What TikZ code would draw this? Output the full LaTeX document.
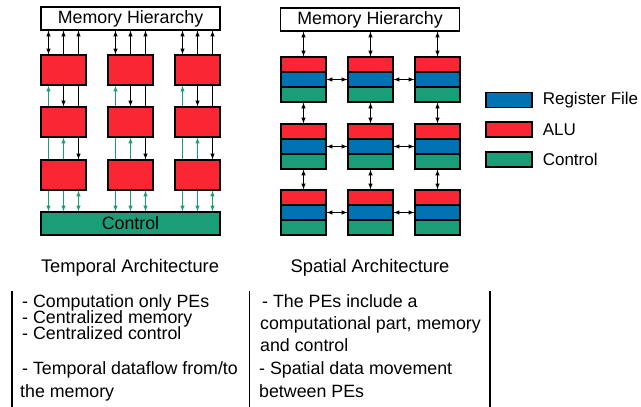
\documentclass[tikz,border=0pt]{standalone}
\usepackage{fontspec}
\setmainfont{Liberation Sans}
\usepackage{tikz}
\usetikzlibrary{positioning}
\definecolor{alured}{RGB}{250,38,52}
\definecolor{regblue}{RGB}{0,114,178}
\definecolor{ctrlgreen}{RGB}{26,158,120}
\tikzset{
  lbl/.style={font=\fontsize{17.8}{20}\selectfont, inner sep=0},
  keylbl/.style={font=\fontsize{17}{20}\selectfont, inner sep=0},
  title/.style={font=\fontsize{18.3}{20}\selectfont, inner sep=0},
  membox/.style={draw, line width=1.2pt, minimum width=179pt, minimum height=23pt, inner sep=0, lbl},
  alubox/.style={draw, line width=1.2pt, fill=alured, minimum width=45pt, minimum height=30pt, inner sep=0},
  band/.style={draw, line width=1.2pt, minimum width=45pt, minimum height=15pt, inner sep=0},
  keybox/.style={draw, line width=1.2pt, minimum width=46pt, minimum height=15pt, inner sep=0},
  link/.style={line width=1pt},
  ctl/.style={line width=1pt, draw=ctrlgreen},
  sep/.style={line width=1.3pt}
}

\begin{document}
\begin{tikzpicture}[x=1pt,y=-1pt,>=latex]
  \useasboundingbox (0,0) rectangle (641,407);

  % temporal architecture
  \node[membox] (tmem) at (130.5,18.5) {Memory Hierarchy};
  \node[membox, fill=ctrlgreen] (tctl) at (130.5,223.5) {Control};
  \foreach \c/\x in {1/63.5,2/130.5,3/197.5} {
    \node[alubox] (t1\c) at (\x,70) {};
    \node[alubox] (t2\c) at (\x,122) {};
    \node[alubox] (t3\c) at (\x,175) {};

    \draw[link,<->] ([xshift=-15pt]t1\c.north) -- ([xshift=-15pt]t1\c.north |- tmem.south);
    \draw[link,->] (t1\c.north) -- (t1\c.north |- tmem.south);
    \draw[link,->] ([xshift=15pt]t1\c.north) -- ([xshift=15pt]t1\c.north |- tmem.south);

    \draw[ctl,->] ([xshift=-15pt]t2\c.north) -- ([xshift=-15pt]t1\c.south);
    \draw[link,->] (t1\c.south) -- (t2\c.north);
    \draw[link] ([xshift=15pt]t1\c.south) -- ([xshift=15pt]t2\c.north);

    \draw[ctl] ([xshift=-15pt]t3\c.north) -- ([xshift=-15pt]t2\c.south);
    \draw[ctl,->] (t3\c.north) -- (t2\c.south);
    \draw[link,->] ([xshift=15pt]t2\c.south) -- ([xshift=15pt]t3\c.north);

    \draw[ctl,->] ([xshift=-15pt]t3\c.south) -- ([xshift=-15pt]t3\c.south |- tctl.north);
    \draw[ctl,->] (t3\c.south) -- (t3\c.south |- tctl.north);
    \draw[ctl,<->] ([xshift=15pt]t3\c.south) -- ([xshift=15pt]t3\c.south |- tctl.north);
  }

  % spatial architecture
  \node[membox] (smem) at (370,19.5) {Memory Hierarchy};
  \foreach \c/\x in {1/303.5,2/370.5,3/437.5} {
    \foreach \r/\y in {1/57,2/124,3/190} {
      \node[band, fill=alured] (s\r\c-a) at (\x,\y+7.5) {};
      \node[band, fill=regblue] (s\r\c-b) at (\x,\y+22.5) {};
      \node[band, fill=ctrlgreen] (s\r\c-c) at (\x,\y+37.5) {};
    }
    \draw[link,<->] (s1\c-a.north |- smem.south) -- (s1\c-a.north);
    \draw[link,<->] (s1\c-c.south) -- (s2\c-a.north);
    \draw[link,<->] (s2\c-c.south) -- (s3\c-a.north);
  }
  \foreach \r in {1,2,3} {
    \draw[link,<->] (s\r1-b.east) -- (s\r2-b.west);
    \draw[link,<->] (s\r2-b.east) -- (s\r3-b.west);
  }

  % legend
  \node[keybox, fill=regblue] (kreg) at (509,100) {};
  \node[keybox, fill=alured] (kalu) at (509,129.5) {};
  \node[keybox, fill=ctrlgreen] (kctl) at (509,159.5) {};
  \node[keylbl, anchor=west, right=10pt of kreg] (treg) {Register File};
  \node[keylbl, anchor=west, right=10pt of kalu] (talu) {ALU};
  \node[keylbl, anchor=west, right=10pt of kctl] (tctlk) {Control};

  % captions
  \node[title] (ttemp) at (130,268) {Temporal Architecture};
  \node[title] (tspat) at (370,268) {Spatial Architecture};

  \draw[sep] (12,291) -- (12,407);
  \draw[sep] (249.5,291) -- (249.5,407);
  \draw[sep] (490,291) -- (490,407);

  \node[lbl, anchor=base west] (l1) at (22,307) {- Computation only PEs};
  \node[lbl, anchor=base west] (l2) at (22,323) {- Centralized memory};
  \node[lbl, anchor=base west] (l3) at (22,339) {- Centralized control};
  \node[lbl, anchor=base west] (l4) at (22,374) {- Temporal dataflow from/to};
  \node[lbl, anchor=base west] (l5) at (20,397) {the memory};

  \node[lbl, anchor=base west] (r1) at (262,307) {- The PEs include a};
  \node[lbl, anchor=base west] (r2) at (260,329) {computational part, memory};
  \node[lbl, anchor=base west] (r3) at (260,351) {and control};
  \node[lbl, anchor=base west] (r4) at (259,374) {- Spatial data movement};
  \node[lbl, anchor=base west] (r5) at (259,397) {between PEs};
\end{tikzpicture}
\end{document}
